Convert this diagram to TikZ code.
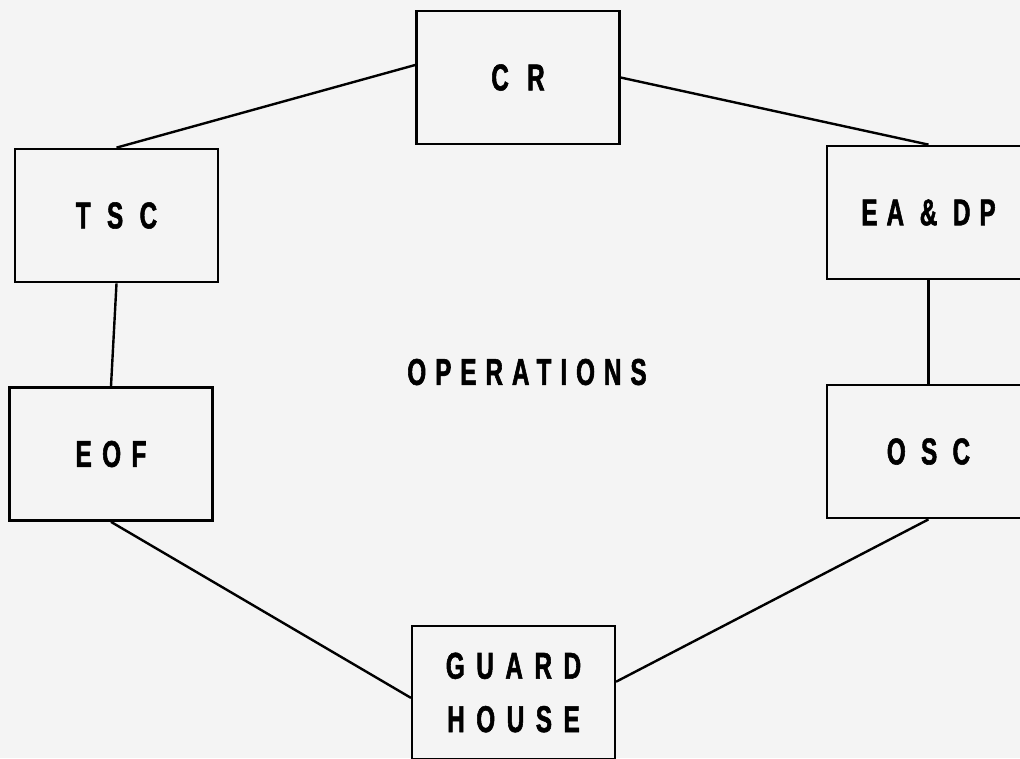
\documentclass[tikz,border=0pt]{standalone}
\usepackage{fontspec}
\newfontfamily\labelfont[FakeStretch=0.65,FakeBold=1.5]{Liberation Sans}
\definecolor{paper}{gray}{0.955}

\begin{document}
\begin{tikzpicture}[x=0.75pt,y=-0.75pt,
  unitbox/.style={draw, line width=1.8pt, fill=paper, minimum width=152pt, minimum height=100pt, inner sep=0pt},
  link/.style={line width=1.8pt},
  spaced/.style={font=\labelfont\bfseries\fontsize{28}{40}\selectfont\addfontfeature{LetterSpace=#1}}]
\fill[paper] (0,0) rectangle (1020,758);
\useasboundingbox (0,0) rectangle (1020,758);
\clip (0,0) rectangle (1020,758);

\node[unitbox, spaced=49] (cr) at (518,77.5) {CR};
\node[unitbox, spaced=44] (tsc) at (116.5,215.5) {TSC};
\node[unitbox, spaced=24] (eadp) at (928.5,212.5) {EA \& DP};
\node[unitbox, spaced=28] (eof) at (111,454) {EOF};
\node[unitbox, spaced=41] (osc) at (928.5,451.5) {OSC};
\node[unitbox, spaced=31, align=center] (guard) at (513.5,692.5) {GUARD\\HOUSE};
\node[spaced=24] (ops) at (527,372) {OPERATIONS};

\draw[link] (cr.173) -- (tsc.north);
\draw[link] (cr.east) -- (eadp.north);
\draw[link] (tsc.south) -- (eof.north);
\draw[link] (eadp.south) -- (osc.north);
\draw[link] (eof.south) -- (guard.183);
\draw[link] (osc.south) -- (guard.6);

\end{tikzpicture}
\end{document}
